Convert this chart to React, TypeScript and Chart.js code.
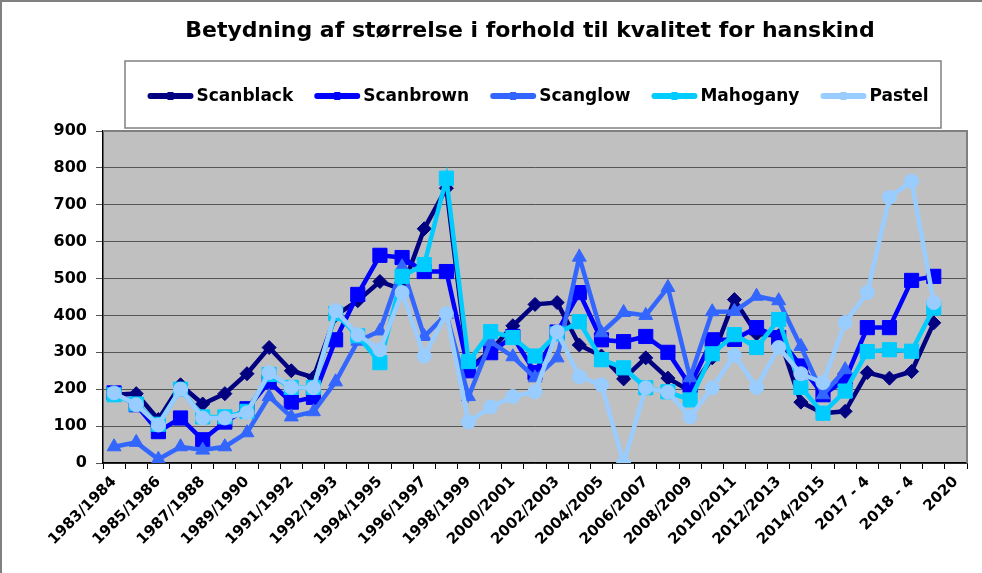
import React, { useEffect, useRef } from 'react';
import { Chart, registerables } from 'chart.js';

Chart.register(...registerables);

const FONT = '"DejaVu Sans", Verdana, sans-serif';

const titleText = 'Betydning af størrelse i forhold til kvalitet for hanskind';

const categories = [
  '1983/1984', '1984/1985', '1985/1986', '1986/1987', '1987/1988', '1988/1989',
  '1989/1990', '1990/1991', '1991/1992', '1992', '1992/1993', '1993/1994',
  '1994/1995', '1995/1996', '1996/1997', '1997/1998', '1998/1999', '1999/2000',
  '2000/2001', '2001/2002', '2002/2003', '2003/2004', '2004/2005', '2005/2006',
  '2006/2007', '2007/2008', '2008/2009', '2009/2010', '2010/2011', '2011/2012',
  '2012/2013', '2013/2014', '2014/2015', '2015/2016', '2017 - 4', '2017 - 11',
  '2018 - 4', '2018 - 11', '2020',
];

const yTicks = [0, 100, 200, 300, 400, 500, 600, 700, 800, 900];

const scanblack = [
  185, 188, 118, 212, 160, 188, 242, 313, 250, 232,
  400, 440, 492, 470, 635, 745, 255, 305, 372, 430,
  435, 320, 290, 228, 285, 230, 195, 285, 443, 350,
  345, 165, 135, 140, 245, 230, 248, 380,
];

const scanbrown = [
  190, 158, 85, 122, 63, 111, 147, 220, 165, 178,
  334, 457, 563, 557, 519, 519, 250, 299, 343, 245,
  355, 462, 334, 329, 343, 300, 210, 334, 335, 367,
  340, 263, 185, 225, 367, 367, 495, 506,
];

const scanglow = [
  44, 56, 10, 44, 35, 44, 82, 180, 125, 139,
  220, 330, 358, 532, 343, 403, 180, 329, 288, 231,
  285, 558, 353, 408, 400, 476, 231, 410, 411, 452,
  440, 316, 185, 253, null, null, null, null,
];

const mahogany = [
  185, 160, 105, 200, 125, 125, 140, 240, 205, 205,
  405, 345, 272, 506, 538, 772, 275, 356, 340, 290,
  350, 383, 280, 258, 204, 193, 171, 296, 348, 313,
  389, 205, 135, 195, 302, 307, 303, 420,
];

const pastel = [
  190, 158, 103, 200, 122, 122, 136, 245, 205, 204,
  413, 348, 307, 462, 290, 405, 111, 152, 180, 193,
  356, 234, 212, 0, 204, 192, 125, 204, 292, 205,
  313, 242, 218, 381, 462, 720, 764, 435,
];

const seriesNames = ['Scanblack', 'Scanbrown', 'Scanglow', 'Mahogany', 'Pastel'];
const seriesData = [scanblack, scanbrown, scanglow, mahogany, pastel];

const seriesStyle = [
  { color: '#000080', marker: 'rectRot', radius: 7 },
  { color: '#0000FF', marker: 'rect', radius: 10 },
  { color: '#3366FF', marker: 'triangle', radius: 8 },
  { color: '#00CCFF', marker: 'rect', radius: 10 },
  { color: '#99CCFF', marker: 'circle', radius: 7 },
];

const decorPlugin = {
  id: 'decor',
  beforeDraw(chart: any) {
    const { ctx, chartArea: a, width, height } = chart;
    ctx.save();
    ctx.fillStyle = '#ffffff';
    ctx.fillRect(0, 0, width, height);
    // outer frame (top & left)
    ctx.strokeStyle = '#808080';
    ctx.lineWidth = 2;
    ctx.beginPath();
    ctx.moveTo(0, 1);
    ctx.lineTo(width, 1);
    ctx.moveTo(1, 0);
    ctx.lineTo(1, height);
    ctx.stroke();
    // plot background
    ctx.fillStyle = '#C0C0C0';
    ctx.fillRect(a.left, a.top, a.right - a.left, a.bottom - a.top);
    // title
    ctx.fillStyle = '#000';
    ctx.font = `bold 22px ${FONT}`;
    ctx.textAlign = 'center';
    ctx.textBaseline = 'middle';
    ctx.fillText(titleText, 530, 31);
    // legend box
    const boxL = 125, boxR = 941, boxT = 61, boxB = 128;
    ctx.fillStyle = '#ffffff';
    ctx.fillRect(boxL, boxT, boxR - boxL, boxB - boxT);
    ctx.strokeStyle = '#808080';
    ctx.lineWidth = 1.5;
    ctx.strokeRect(boxL, boxT, boxR - boxL, boxB - boxT);
    ctx.font = `bold 17px ${FONT}`;
    const sample = 46, gapText = 3, gapItem = 21;
    const widths = seriesNames.map((n) => ctx.measureText(n).width);
    const total = widths.reduce((s, w) => s + sample + gapText + w, 0) + gapItem * (seriesNames.length - 1);
    let x = 538 - total / 2;
    const cy = 96;
    seriesNames.forEach((name, i) => {
      const st = seriesStyle[i];
      ctx.strokeStyle = st.color;
      ctx.lineWidth = 6;
      ctx.lineCap = 'round';
      ctx.beginPath();
      ctx.moveTo(x + 3, cy);
      ctx.lineTo(x + sample - 3, cy);
      ctx.stroke();
      ctx.fillStyle = st.color;
      ctx.fillRect(x + sample / 2 - 3, cy - 4, 6, 8);
      ctx.fillStyle = '#000';
      ctx.textAlign = 'left';
      ctx.textBaseline = 'middle';
      ctx.fillText(name, x + sample + gapText, cy + 1);
      x += sample + gapText + widths[i] + gapItem;
    });
    ctx.restore();
  },
  beforeDatasetsDraw(chart: any) {
    const { ctx, chartArea: a } = chart;
    ctx.save();
    ctx.strokeStyle = '#808080';
    ctx.lineWidth = 2;
    ctx.beginPath();
    ctx.moveTo(a.left, a.top);
    ctx.lineTo(a.right, a.top);
    ctx.lineTo(a.right, a.bottom);
    ctx.stroke();
    ctx.restore();
  },
};

export default function App() {
  const ref = useRef<HTMLCanvasElement | null>(null);

  useEffect(() => {
    if (!ref.current) return;
    const datasets = seriesNames.map((name, i) => ({
      label: name,
      data: seriesData[i],
      borderColor: seriesStyle[i].color,
      backgroundColor: seriesStyle[i].color,
      borderWidth: 4.5,
      pointStyle: seriesStyle[i].marker as any,
      pointRadius: seriesStyle[i].radius,
      pointBackgroundColor: seriesStyle[i].color,
      pointBorderColor: seriesStyle[i].color,
      pointBorderWidth: 1,
      tension: 0,
      fill: false,
      order: seriesNames.length - i,
    }));
    const chart = new Chart(ref.current, {
      type: 'line',
      data: { labels: categories, datasets },
      options: {
        responsive: false,
        animation: false,
        devicePixelRatio: 1,
        layout: { padding: { top: 131, right: 15, left: 0, bottom: 0 } },
        plugins: {
          legend: { display: false },
          title: { display: false },
          tooltip: { enabled: false },
        },
        scales: {
          x: {
            offset: true,
            grid: { offset: true, drawOnChartArea: false, drawTicks: true, tickLength: 6, color: '#000' },
            border: { color: '#000', width: 1.5 },
            ticks: {
              autoSkip: false,
              minRotation: 45,
              maxRotation: 45,
              padding: 4,
              color: '#000',
              font: { family: FONT, size: 15, weight: 'bold' },
              callback: (_v: any, i: number) => (i % 2 === 0 ? categories[i] : ''),
            },
            afterFit: (s: any) => {
              s.height = 110;
            },
          },
          y: {
            min: yTicks[0],
            max: yTicks[yTicks.length - 1],
            afterBuildTicks: (s: any) => {
              s.ticks = yTicks.map((v) => ({ value: v }));
            },
            ticks: {
              padding: 9,
              color: '#000',
              font: { family: FONT, size: 16, weight: 'bold' },
            },
            grid: { color: '#555555', tickLength: 7, lineWidth: 1 },
            border: { color: '#000', width: 1.5 },
            afterFit: (s: any) => {
              s.width = 103;
            },
          },
        },
      } as any,
      plugins: [decorPlugin],
    });
    return () => chart.destroy();
  }, []);

  return (
    <div style={{ position: 'absolute', left: 0, top: 0, width: 982, height: 573 }}>
      <canvas ref={ref} width={982} height={573} style={{ display: 'block' }} />
    </div>
  );
}
